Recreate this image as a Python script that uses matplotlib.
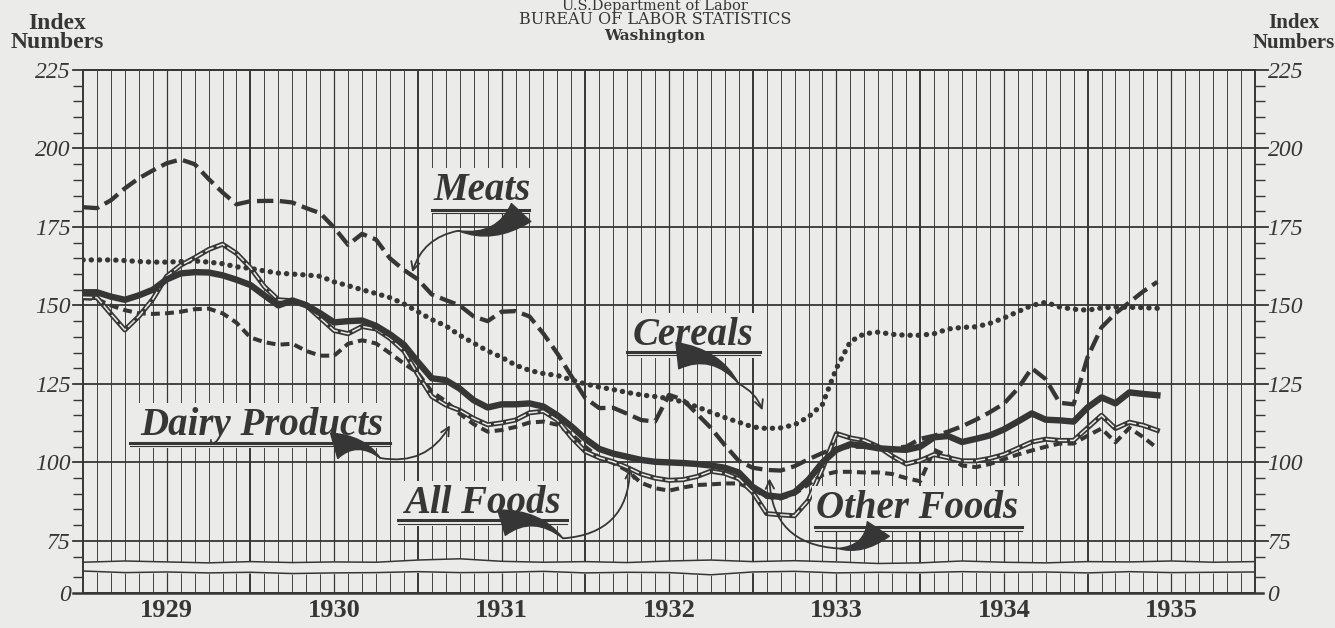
import numpy as np
import matplotlib.pyplot as plt

# colours of the old print
paper = '#ebebe9'
ink = '#363636'

years = ['1929', '1930', '1931', '1932', '1933', '1934', '1935']
y_major = [75, 100, 125, 150, 175, 200, 225]
y_minor = [63.5, 70] + [v for v in range(80, 225, 5) if v % 25 != 0]
y_bottom = 58.4  # the "0" of the broken scale

# monthly index numbers, Jan 1929 - Jun 1935
meats = [181.3, 181.0, 183.5, 187.3, 190.5, 193.0, 195.3, 196.5, 195.0, 190.3, 186.0, 182.2,
         183.2, 183.3, 183.3, 182.8, 181.0, 179.4, 174.8, 169.3, 172.8, 171.0, 165.0, 161.3,
         158.3, 153.5, 151.7, 150.0, 146.5, 145.0, 148.0, 148.2, 146.5, 141.0, 134.7, 127.5,
         120.5, 117.3, 117.4, 115.5, 113.5, 113.0, 121.5, 120.0, 115.5, 111.0, 105.5, 100.5,
         98.3, 97.6, 97.4, 98.8, 101.0, 103.0, 104.5, 105.0, 105.0, 104.5, 104.5, 105.0,
         107.5, 108.5, 109.8, 111.5, 113.6, 116.0, 118.7, 123.5, 130.0, 126.5, 119.0, 118.5,
         133.5, 143.0, 147.5, 151.0, 154.5, 157.5]
cereals = [164.5, 164.5, 164.5, 164.3, 164.0, 163.8, 163.8, 164.0, 164.2, 163.8, 163.3, 162.3,
           161.8, 161.0, 160.3, 160.0, 159.7, 159.3, 157.5, 156.3, 155.0, 153.8, 152.5, 150.5,
           148.0, 145.5, 143.5, 140.5, 138.0, 135.5, 133.5, 131.0, 129.3, 128.3, 127.7, 126.3,
           125.0, 124.0, 123.2, 122.3, 121.5, 121.0, 120.3, 119.3, 117.7, 116.0, 114.3, 112.8,
           111.3, 110.8, 111.0, 112.0, 114.5, 118.5, 130.0, 138.5, 141.0, 141.5, 140.8, 140.5,
           140.5, 141.0, 142.5, 143.0, 143.2, 144.3, 146.0, 148.0, 150.0, 151.0, 149.5, 148.8,
           148.5, 149.2, 149.5, 149.4, 149.3, 149.1]
dairy = [152.3, 152.0, 150.0, 148.5, 147.5, 147.3, 147.5, 148.0, 148.8, 149.0, 147.5, 144.5,
         139.8, 138.3, 137.5, 137.8, 135.5, 134.0, 134.0, 137.8, 138.9, 137.9, 134.8, 131.5,
         128.5, 122.5, 119.5, 115.5, 112.2, 109.8, 110.3, 111.3, 112.7, 113.0, 112.0, 109.0,
         105.0, 101.5, 99.8, 97.4, 93.5, 91.8, 91.0, 92.0, 92.8, 93.0, 93.3, 93.3,
         91.5, 89.0, 88.5, 90.0, 93.0, 96.0, 97.0, 97.0, 96.8, 96.8, 96.3, 95.0,
         94.0, 104.0, 102.0, 99.0, 98.5, 99.5, 101.0, 102.5, 103.8, 105.0, 106.0, 106.0,
         108.5, 110.8, 106.4, 111.0, 108.0, 104.5]
all_foods = [154.2, 154.2, 152.8, 151.8, 153.2, 155.0, 158.3, 160.2, 160.6, 160.5, 159.6, 158.2,
             156.5, 153.2, 150.0, 151.6, 150.1, 147.5, 144.6, 145.0, 145.2, 143.5, 140.8, 137.5,
             132.0, 126.8, 126.2, 123.5, 119.8, 117.5, 118.5, 118.5, 118.8, 117.8, 115.0, 111.5,
             107.5, 104.3, 102.8, 101.8, 100.8, 100.2, 100.0, 99.8, 99.5, 99.0, 98.3, 96.8,
             92.2, 89.5, 89.0, 90.5, 94.5, 100.0, 104.0, 105.8, 105.3, 104.5, 104.2, 104.0,
             105.0, 108.0, 108.4, 106.5, 107.5, 108.6, 110.5, 113.0, 115.6, 113.6, 113.4, 113.0,
             117.5, 120.7, 118.8, 122.3, 121.8, 121.4]
other_foods = [152.6, 152.5, 147.3, 142.2, 146.5, 152.0, 159.3, 162.8, 165.2, 167.8, 169.5, 166.6,
               162.0, 156.0, 151.8, 151.5, 150.0, 146.0, 142.0, 141.0, 143.3, 142.5, 139.5, 135.5,
               128.0, 121.0, 118.3, 116.6, 114.0, 112.0, 112.6, 113.5, 115.8, 116.3, 113.5, 108.0,
               103.5, 101.5, 100.2, 98.4, 96.3, 95.0, 94.3, 94.5, 95.5, 97.2, 96.5, 94.8,
               90.5, 83.7, 83.3, 83.0, 88.0, 98.0, 109.2, 107.8, 107.0, 105.0, 102.0, 99.5,
               100.6, 102.5, 101.5, 100.5, 100.5, 101.3, 102.5, 104.5, 106.5, 107.4, 107.0, 107.0,
               111.0, 115.0, 110.8, 112.8, 111.8, 110.2]

# hand-drawn break of the scale (two wavy lines)
wave_top = [68.2, 68.6, 68.3, 68.0, 68.4, 68.1, 68.3, 68.2, 68.9, 69.3, 68.5, 68.2, 68.4, 68.1, 68.6,
            68.9, 68.4, 68.7, 68.3, 67.8, 68.0, 68.6, 68.2, 68.0, 68.4, 68.3, 68.6, 68.2, 68.4]
wave_bottom = [65.4, 64.9, 65.1, 64.8, 65.0, 64.6, 64.8, 64.9, 65.2, 64.9, 65.0, 65.3, 64.8, 65.0, 64.9,
               64.2, 65.1, 65.3, 64.8, 65.0, 64.9, 65.2, 65.0, 65.1, 64.8, 65.2, 64.9, 65.0, 65.1]

months = np.arange(len(all_foods))

plt.rcParams['font.family'] = ['Liberation Serif', 'DejaVu Serif']

fig = plt.figure(figsize=(13.35, 6.28), dpi=100, facecolor=paper)
ax = fig.add_axes([83 / 1335, 1 - 593 / 628, 1172 / 1335, 523 / 628])
ax.set_facecolor(paper)
ax.set_xlim(0, 84)
ax.set_ylim(y_bottom, 225)

# monthly rulings, heavier at half years and years
for m in range(1, 84):
    w = 1.4 if m % 12 == 0 else (0.9 if m % 6 == 0 else 0.65)
    ax.axvline(m, color=ink, lw=w, zorder=1)
for v in y_major:
    ax.plot([-0.75, 84.95], [v, v], color=ink, lw=1.3, clip_on=False, zorder=1)
ax.plot([-0.75, 84.6], [y_bottom, y_bottom], color=ink, lw=1.8, clip_on=False, zorder=1)

wx = np.linspace(0, 84, len(wave_top))
ax.fill_between(wx, wave_bottom, wave_top, color=paper, zorder=2)
ax.plot(wx, wave_top, color=ink, lw=1.1, zorder=2)
ax.plot(wx, wave_bottom, color=ink, lw=1.1, zorder=2)

for s in ax.spines.values():
    s.set_color(ink)
    s.set_linewidth(1.4)

ax.set_yticks([y_bottom] + y_major, ['0'] + [str(v) for v in y_major])
ax.set_yticks(y_minor, minor=True)
ax.tick_params(axis='y', which='major', length=0, pad=9, labelsize=17, colors=ink,
               left=True, right=True, labelleft=True, labelright=True)
ax.tick_params(axis='y', which='minor', length=7, width=1.0, color=ink,
               left=True, right=True, direction='out')
for lab in ax.get_yticklabels():
    lab.set_fontstyle('italic')
ax.set_xticks(np.arange(6, 84, 12), years)
ax.tick_params(axis='x', length=0, pad=4, labelsize=19, colors=ink)
for lab in ax.get_xticklabels():
    lab.set_fontweight('bold')

# the five series
ax.plot(months, meats, color=ink, lw=3.1, ls=(0, (3.8, 1.5)), zorder=4)
ax.plot(months, cereals, color=ink, lw=3.8, ls=(0, (0.05, 1.5)),
        dash_capstyle='round', zorder=4)
ax.plot(months, dairy, color=ink, lw=2.9, ls=(0, (2.2, 1.3)), zorder=4)
ax.plot(months, other_foods, color=ink, lw=3.6, zorder=5)
ax.plot(months, other_foods, color=paper, lw=1.1, ls=(0, (6, 2)), zorder=5)
ax.plot(months, all_foods, color=ink, lw=4.6, solid_joinstyle='round', zorder=6)

# lettered labels with swash and arrow
labels = [
    ('Meats', (28.6, 186.7), (25.0, 32.0, 180.4), (31.4, 179.6), (26.9, 173.8), (23.6, 160.6), 0.3),
    ('Cereals', (43.7, 140.5), (39.0, 48.5, 135.1), (42.6, 134.0), (47.0, 125.0), (48.7, 116.6), -0.2),
    ('Dairy Products', (12.8, 111.8), (3.4, 22.0, 106.1), (18.0, 105.3), (21.3, 101.4), (26.3, 111.8), 0.35),
    ('All Foods', (28.6, 86.9), (22.6, 34.7, 81.5), (30.0, 80.8), (34.4, 75.8), (39.2, 98.1), 0.45),
    ('Other Foods', (59.8, 85.3), (52.5, 67.3, 79.3), (57.0, 78.8), (54.1, 72.6), (49.2, 94.9), -0.45),
]
for name, pos, ul, w0, w1, tip, rad in labels:
    ax.text(pos[0], pos[1], name, ha='center', va='center', fontsize=28, color=ink,
            fontweight='bold', fontstyle='italic', zorder=7,
            bbox=dict(boxstyle='square,pad=0.1', fc=paper, ec='none'))
    ax.plot([ul[0], ul[1]], [ul[2], ul[2]], color=ink, lw=2.2, zorder=7)
    ax.plot([ul[0], ul[1]], [ul[2] - 1.0, ul[2] - 1.0], color=ink, lw=0.8, zorder=7)
    ax.annotate('', xy=w1, xytext=w0, zorder=7,
                arrowprops=dict(arrowstyle='wedge,tail_width=1.9,shrink_factor=0.35',
                                connectionstyle='arc3,rad=-0.3', fc=ink, ec=ink,
                                shrinkA=0, shrinkB=0))
    ax.annotate('', xy=tip, xytext=w1, zorder=7,
                arrowprops=dict(arrowstyle='->,head_length=0.6,head_width=0.3',
                                connectionstyle='arc3,rad=%s' % rad, color=ink, lw=1.3,
                                shrinkA=0, shrinkB=0))

# headings
fig.text(57 / 1335, 1 - 33 / 628, 'Index\nNumbers', ha='center', va='center', fontsize=17,
         fontweight='bold', color=ink, linespacing=0.9)
fig.text(1294 / 1335, 1 - 33 / 628, 'Index\nNumbers', ha='center', va='center', fontsize=15,
         fontweight='bold', color=ink, linespacing=0.95)
fig.text(0.4906, 1 - 6 / 628, 'U.S.Department of Labor', ha='center', va='center',
         fontsize=10.5, color=ink, family='DejaVu Serif')
fig.text(0.4906, 1 - 20 / 628, 'BUREAU OF LABOR STATISTICS', ha='center', va='center',
         fontsize=11.5, color=ink, family='DejaVu Serif')
fig.text(0.4906, 1 - 36 / 628, 'Washington', ha='center', va='center',
         fontsize=11, color=ink, family='DejaVu Serif', fontweight='bold')

fig.savefig('out.png', dpi=100, facecolor=paper)
